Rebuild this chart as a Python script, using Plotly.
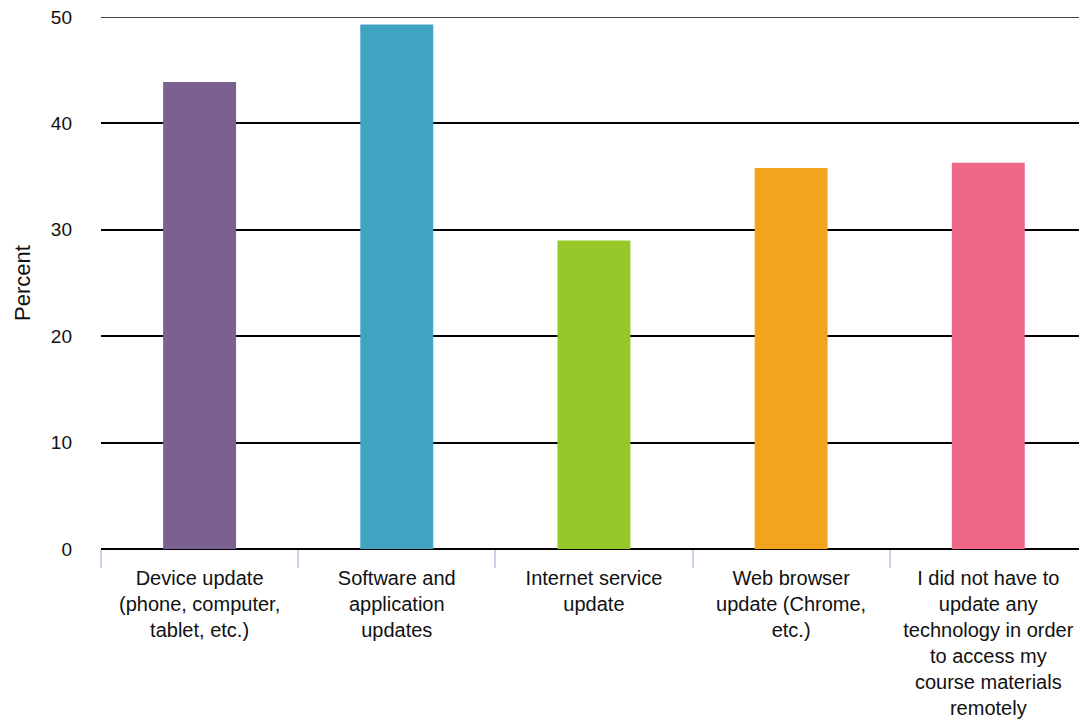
import plotly.graph_objects as go

categories = [
    "Device update<br>(phone, computer,<br>tablet, etc.)",
    "Software and<br>application<br>updates",
    "Internet service<br>update",
    "Web browser<br>update (Chrome,<br>etc.)",
    "I did not have to<br>update any<br>technology in order<br>to access my<br>course materials<br>remotely",
]
percent = [43.9, 49.3, 29.0, 35.8, 36.3]
colors = ["#7b618f", "#3fa3c2", "#97c829", "#f4a41c", "#f06687"]
y_ticks = [0, 10, 20, 30, 40, 50]

fig = go.Figure(
    go.Bar(
        x=categories,
        y=percent,
        marker=dict(color=colors, line=dict(width=0)),
        width=0.37,
        hoverinfo="x+y",
    )
)

font_family = "Liberation Sans, Arial, sans-serif"

fig.update_layout(
    width=1079,
    height=721,
    margin=dict(l=101, r=0, t=17, b=172),
    paper_bgcolor="white",
    plot_bgcolor="white",
    showlegend=False,
    font=dict(family=font_family, size=19, color="#111111"),
)

# top gridline sits on the edge of the plotting area, draw it explicitly
fig.add_shape(
    type="line", xref="paper", yref="y",
    x0=0, x1=1, y0=y_ticks[-1], y1=y_ticks[-1],
    line=dict(color="#000000", width=1.5),
    layer="below",
)

fig.update_xaxes(
    type="category",
    range=[-0.5, 4.46],  # last category runs slightly past the right edge
    showgrid=False,
    showline=False,
    ticks="outside",
    tickson="boundaries",
    ticklen=18,
    tickwidth=1.5,
    tickcolor="#c9d3e6",
    ticklabelstandoff=15,
    tickfont=dict(size=20, color="#111111"),
    tickangle=0,
)

fig.update_yaxes(
    range=[0, 50],
    tickvals=y_ticks,
    showgrid=True,
    gridcolor="#000000",
    gridwidth=1.5,
    zeroline=True,
    zerolinecolor="#000000",
    zerolinewidth=2,
    showline=False,
    ticks="",
    ticklabelstandoff=28,
    tickfont=dict(size=19, color="#111111"),
    title=dict(text="Percent", font=dict(size=22, color="#111111"), standoff=14),
)

fig.write_html("out.html")
